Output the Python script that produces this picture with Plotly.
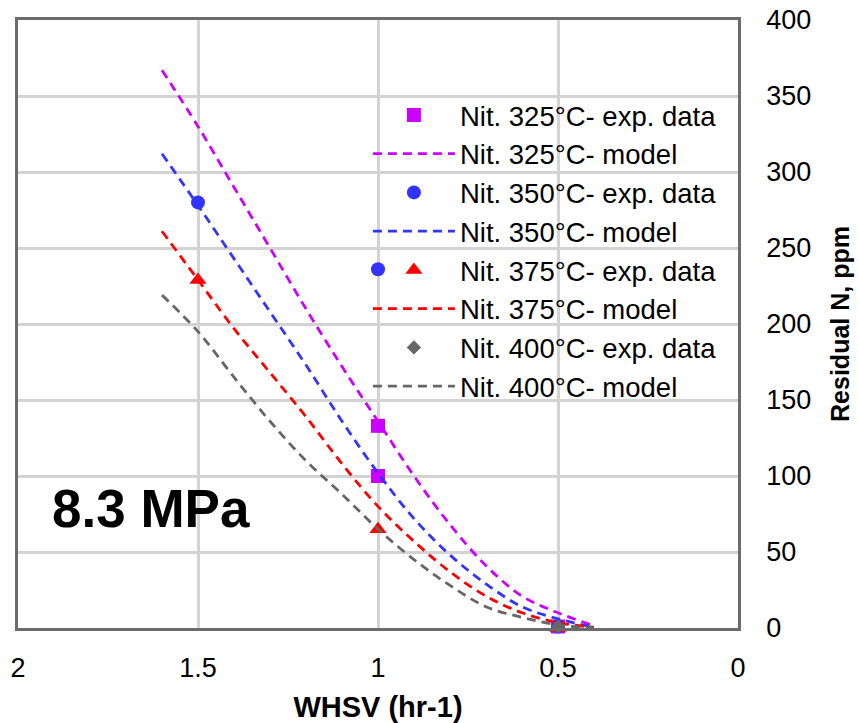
import plotly.graph_objects as go

# ---- data ----
temps = ["325", "350", "375", "400"]
colors = ["#CC00FF", "#3333FF", "#FF0000", "#666666"]
symbols = ["square", "circle", "triangle-up", "diamond"]
marker_sizes = [14, 14, 15, 11]

exp_x = {
    "325": [1.0, 1.0, 0.5],
    "350": [1.5, 1.0, 0.5],
    "375": [1.5, 1.0, 0.5],
    "400": [0.5],
}
exp_y = {
    "325": [133, 100, 1],
    "350": [280, 236, 1],
    "375": [229, 65, 0],
    "400": [1],
}

model_x = [1.6, 1.5, 1.4, 1.3, 1.2, 1.1, 1.0, 0.9, 0.8, 0.7, 0.6, 0.5, 0.4]
model_y = {
    "325": [367, 330, 290, 250, 210, 172, 136, 100, 68, 41, 21, 10, 1.5],
    "350": [312, 278, 243, 208, 173, 136, 102, 72, 48, 29, 14, 6, 0.5],
    "375": [261, 229, 197, 168, 139, 108, 80, 57, 37, 21, 10, 3.5, 0.5],
    "400": [219, 195, 165, 136, 110, 88, 65, 45, 28, 14, 7, 2, 0.3],
}

x_ticks = [2, 1.5, 1, 0.5, 0]
x_tick_text = ["2", "1.5", "1", "0.5", "0"]
y_ticks = [0, 50, 100, 150, 200, 250, 300, 350, 400]

FONT = "Liberation Sans, Arial, sans-serif"

fig = go.Figure()
for i, t in enumerate(temps):
    fig.add_trace(go.Scatter(
        x=exp_x[t], y=exp_y[t], mode="markers",
        name=f"Nit. {t}°C- exp. data",
        marker=dict(symbol=symbols[i], color=colors[i], size=marker_sizes[i]),
        cliponaxis=False, legendgroup=f"e{t}",
    ))
    fig.add_trace(go.Scatter(
        x=model_x, y=model_y[t], mode="lines",
        name=f"Nit. {t}°C- model",
        line=dict(color=colors[i], width=2.8, dash="9px,6px", shape="spline"),
        legendgroup=f"m{t}",
    ))

fig.add_annotation(
    text="<b>8.3 MPa</b>", xref="paper", yref="paper",
    x=0.044, y=0.196, xanchor="left", yanchor="middle",
    showarrow=False, font=dict(family=FONT, size=53, color="#000000"),
)

fig.update_layout(
    width=859, height=723,
    margin=dict(l=18, r=121, t=20, b=95),
    paper_bgcolor="white", plot_bgcolor="white",
    font=dict(family=FONT, color="#000000"),
    showlegend=True,
    legend=dict(
        x=0.486, y=0.884, xanchor="left", yanchor="top",
        bgcolor="rgba(0,0,0,0)", borderwidth=0,
        font=dict(family=FONT, size=27.5, color="#000000"),
        itemwidth=82, tracegroupgap=0, traceorder="grouped",
    ),
    xaxis=dict(
        range=[2, 0], tickvals=x_ticks, ticktext=x_tick_text,
        showgrid=True, gridcolor="#d3d3d3", gridwidth=2.5,
        showline=True, linecolor="#6b6b6b", linewidth=2.5, mirror=True,
        ticks="", zeroline=False, automargin=False,
        tickfont=dict(family=FONT, size=27, color="#000000"),
        ticklabelstandoff=14,
        title=dict(text="<b>WHSV (hr-1)</b>", standoff=17,
                   font=dict(family=FONT, size=29, color="#000000")),
    ),
    yaxis=dict(
        range=[0, 400], tickvals=y_ticks, side="right",
        showgrid=True, gridcolor="#d3d3d3", gridwidth=2.5,
        showline=True, linecolor="#6b6b6b", linewidth=2.5, mirror=True,
        ticks="", zeroline=False, automargin=False,
        tickfont=dict(family=FONT, size=27, color="#000000"),
        ticklabelstandoff=20,
        title=dict(text="<b>Residual N, ppm</b>", standoff=22,
                   font=dict(family=FONT, size=25, color="#000000")),
    ),
)

fig.write_html("out.html")
